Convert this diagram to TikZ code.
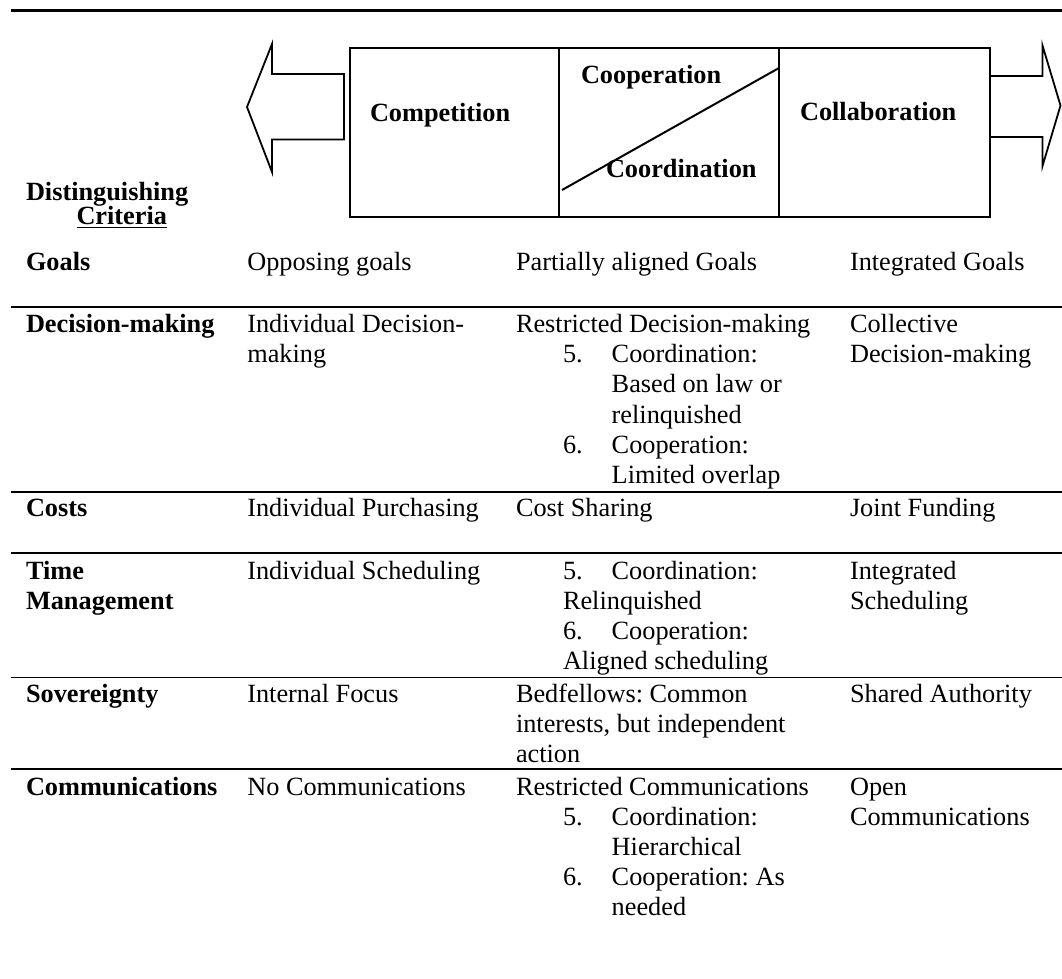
\documentclass[tikz,border=0pt]{standalone}
\usepackage{fontspec}
\setmainfont{Liberation Serif}
\frenchspacing
\newcommand{\ml}[1]{\parbox[t]{420pt}{#1}}
\begin{document}
\begin{tikzpicture}[x=1pt,y=-1pt,
  txt/.style={anchor=base west, inner sep=0pt, outer sep=0pt, font=\fontsize{26.3}{30.2}\selectfont},
  hd/.style={txt, font=\fontsize{26.3}{30.2}\selectfont\bfseries},
  rule/.style={line width=1.9pt},
  frame/.style={line width=2pt},
  arr/.style={line width=1.8pt, line join=miter}]
\useasboundingbox (0,0) rectangle (1062,978);

% rules
\coordinate (r0a) at (11,10.5);  \coordinate (r0b) at (1062,10.5);
\coordinate (r1a) at (11,307.3); \coordinate (r1b) at (1062,307.3);
\coordinate (r2a) at (11,492.3); \coordinate (r2b) at (1062,492.3);
\coordinate (r3a) at (11,553.3); \coordinate (r3b) at (1062,553.3);
\coordinate (r4a) at (11,677.5); \coordinate (r4b) at (1062,677.5);
\coordinate (r5a) at (11,769.3); \coordinate (r5b) at (1062,769.3);
\draw[rule, line width=2.2pt] (r0a) -- (r0b);
\draw[rule] (r1a) -- (r1b);
\draw[rule] (r2a) -- (r2b);
\draw[rule] (r3a) -- (r3b);
\draw[rule] (r4a) -- (r4b);
\draw[rule] (r5a) -- (r5b);

% spectrum box
\draw[frame] (349.5,48) rectangle (989.5,217);
\draw[frame] (559,48) -- (559,217);
\draw[frame] (779,48) -- (779,217);
\draw[frame] (562,190) -- (779,68);

% arrows
\draw[arr] (344,74) -- (272,74) -- (272,44) -- (247,107) -- (272,172) -- (272,139.5) -- (344,139.5) -- cycle;
\draw[arr] (989.5,76) -- (1042.5,76) -- (1042.5,45.5) -- (1060.5,105.5) -- (1042.5,166) -- (1042.5,137) -- (989.5,137);

% box labels
\node[hd] (competition) at (370,121.5) {Competition};
\node[hd] (cooperation) at (581,83) {Cooperation};
\node[hd] (coordination) at (606,177) {Coordination};
\node[hd] (collaboration) at (800,120.5) {Collaboration};

% header
\node[hd] (dist) at (26,200) {Distinguishing};
\node[hd] (crit) at (76.5,224) {Criteria};
\draw[line width=1.8pt] ([yshift=-3.5pt]crit.base west) -- ([yshift=-3.5pt]crit.base east);

% Goals
\node[hd]  (goals) at (26,270) {Goals};
\node[txt] (g2) at (247.3,270) {Opposing goals};
\node[txt] (g3) at (516,270) {Partially aligned Goals};
\node[txt] (g4) at (850,270) {Integrated Goals};

% Decision-making
\node[hd]  (dm) at (26,332.5) {Decision-making};
\node[txt] (dm2) at (247.3,332.5) {\ml{Individual Decision-\\making}};
\node[txt] (dm3) at (516,332.5) {Restricted Decision-making};
\node[txt] (dm3a) at (563,362.7) {5.};
\node[txt] (dm3b) at (611.7,362.7) {\ml{Coordination:\\Based on law or\\relinquished}};
\node[txt] (dm3c) at (563,453.3) {6.};
\node[txt] (dm3d) at (611.7,453.3) {\ml{Cooperation:\\Limited overlap}};
\node[txt] (dm4) at (850,332.5) {\ml{Collective\\Decision-making}};

% Costs
\node[hd]  (co) at (26,516.7) {Costs};
\node[txt] (co2) at (247.3,516.7) {Individual Purchasing};
\node[txt] (co3) at (516,516.7) {Cost Sharing};
\node[txt] (co4) at (850,516.7) {Joint Funding};

% Time Management
\node[hd]  (tm) at (26,579) {\ml{Time\\Management}};
\node[txt] (tm2) at (247.3,579) {Individual Scheduling};
\node[txt] (tm3) at (563,579) {\ml{\makebox[48.7pt][l]{5.}Coordination:\\Relinquished\\\makebox[48.7pt][l]{6.}Cooperation:\\Aligned scheduling}};
\node[txt] (tm4) at (850,579) {\ml{Integrated\\Scheduling}};

% Sovereignty
\node[hd]  (sv) at (26,702.5) {Sovereignty};
\node[txt] (sv2) at (247.3,702.5) {Internal Focus};
\node[txt] (sv3) at (516,702.5) {\ml{Bedfellows: Common\\interests, but independent\\action}};
\node[txt] (sv4) at (850,702.5) {Shared Authority};

% Communications
\node[hd]  (cm) at (26,795) {Communications};
\node[txt] (cm2) at (247.3,795) {No Communications};
\node[txt] (cm3) at (516,795) {Restricted Communications};
\node[txt] (cm3a) at (563,825.2) {5.};
\node[txt] (cm3b) at (611.7,825.2) {\ml{Coordination:\\Hierarchical}};
\node[txt] (cm3c) at (563,885.6) {6.};
\node[txt] (cm3d) at (611.7,885.6) {\ml{Cooperation: As\\needed}};
\node[txt] (cm4) at (850,795) {\ml{Open\\Communications}};
\end{tikzpicture}
\end{document}
